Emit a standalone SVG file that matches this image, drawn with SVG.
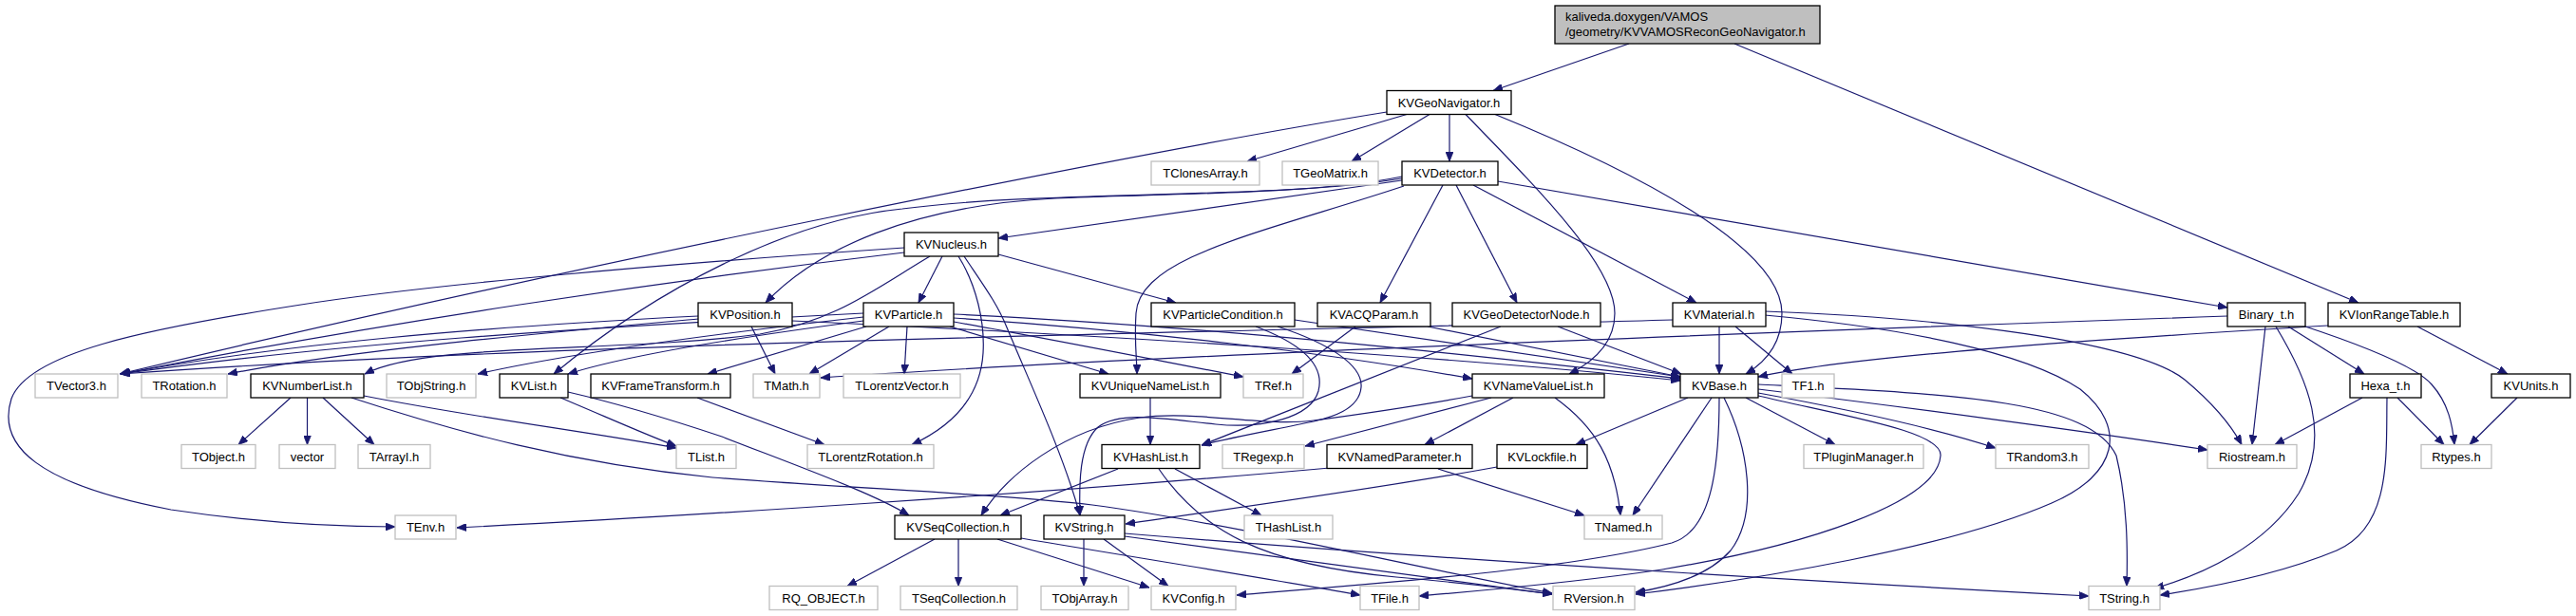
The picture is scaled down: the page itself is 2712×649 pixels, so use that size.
<svg xmlns="http://www.w3.org/2000/svg" width="2712" height="649" viewBox="0 0 2712 649">
<defs>
<style>
.n rect{fill:#fff;stroke:#000;stroke-width:1.3}
.x rect{fill:#fff;stroke:#bfbfbf;stroke-width:1.3}
.r rect{fill:#bfbfbf;stroke:#000;stroke-width:1.3}
text{font-family:"Liberation Sans",Arial,sans-serif;font-size:13px;fill:#000;text-anchor:middle}
.r text{text-anchor:start}
#edges path{fill:none;stroke:#191970;stroke-width:1.2;marker-end:url(#ah)}
</style>
<marker id="ah" viewBox="0 0 10 8" refX="10" refY="4" markerWidth="10" markerHeight="8" markerUnits="userSpaceOnUse" orient="auto"><path d="M0,0L10,4L0,8z" fill="#191970" stroke="#191970" stroke-width="0.8"/></marker>
</defs>
<rect width="2712" height="649" fill="#fff"/>
<g id="edges">
<path d="M1715,46 L1572,95.5"/>
<path d="M1826,46 L2483,319"/>
<path d="M1481,120.5 L1313,170"/>
<path d="M1505,120.5 L1423,170"/>
<path d="M1526,120.5 L1526,170"/>
<path d="M1460,118 C1200,160 600,280 126,394"/>
<path d="M1543,120.5 C1620,200 1700,280 1700,330 C1700,360 1680,380 1652,394"/>
<path d="M1574,120.5 C1720,180 1876,260 1876,330 C1876,362 1858,382 1838,394"/>
<path d="M1577,191 L2345,324"/>
<path d="M1551,195 L1786,319"/>
<path d="M1533,195 L1597,319"/>
<path d="M1519,195 L1453,319"/>
<path d="M1476,190 L1051,251"/>
<path d="M1476,186 C1380,206 1200,204 1110,209 C960,217 860,262 806,319"/>
<path d="M1476,188 C1350,210 1100,200 950,220 C830,232 690,305 583,394"/>
<path d="M1478,196 C1330,245 1200,270 1196,330 C1194,360 1197,380 1197,394"/>
<path d="M992,270 L967,319"/>
<path d="M1051,268 L1238,319"/>
<path d="M1009,270 C1028,300 1037,340 1035,372 C1032,420 1000,450 960,468.5"/>
<path d="M1015,270 C1035,300 1050,320 1060,345 C1085,405 1120,480 1137,543"/>
<path d="M952,266 C700,296 400,340 127,394"/>
<path d="M952,261 C700,278 450,300 317,321 C150,347 30,372 12,420 C-4,470 40,510 180,537 C280,552 360,555 416,555"/>
<path d="M979,270 C920,305 880,338 800,352 C650,372 450,360 384,394"/>
<path d="M735,333 C500,345 300,362 127,394"/>
<path d="M735,336 C560,352 360,370 240,394"/>
<path d="M791,344 L816,394"/>
<path d="M834,338 C1200,355 1550,378 1769,401"/>
<path d="M909,330 C600,346 350,362 127,394"/>
<path d="M909,334 C750,352 600,372 503,394"/>
<path d="M909,338 C780,355 660,374 598,394"/>
<path d="M912,344 L745,394"/>
<path d="M936,344 L852,394"/>
<path d="M955,344 L952,394"/>
<path d="M1000,344 L1167,394"/>
<path d="M1004,339 C1110,358 1210,378 1309,397"/>
<path d="M1004,335 C1200,348 1400,372 1550,399"/>
<path d="M1004,331 C1300,345 1600,380 1769,399"/>
<path d="M1363,337 L1769,397"/>
<path d="M1322,344 C1370,362 1395,385 1388,412 C1380,440 1330,452 1280,447 C1230,442 1180,432 1156,450 C1136,468 1136,510 1137,543"/>
<path d="M1345,344 C1400,362 1435,385 1433,408 C1431,432 1400,440 1383,444 C1340,453 1290,462 1265,469"/>
<path d="M1580,344 L1265,469"/>
<path d="M1550,417 C1480,430 1420,438 1383,443 C1330,450 1260,432 1200,440 C1120,452 1060,500 1033,543"/>
<path d="M1427,344 L1360,394"/>
<path d="M1503,344 L1769,397"/>
<path d="M1640,344 L1770,394"/>
<path d="M1761,337 C1300,350 600,360 127,394"/>
<path d="M1810,344 L1810,394"/>
<path d="M1827,344 L1887,394"/>
<path d="M1858,328 C2050,335 2250,360 2300,400 C2330,425 2350,450 2360,468.5"/>
<path d="M1858,332 C2000,345 2130,370 2190,410 C2240,450 2230,500 2160,530 C2050,578 1850,610 1722,626"/>
<path d="M2345,333 C1800,352 1200,375 864,398"/>
<path d="M2385,344 L2371,468.5"/>
<path d="M2396,344 C2430,400 2455,460 2420,520 C2385,575 2320,605 2268,620"/>
<path d="M2409,344 L2489,394"/>
<path d="M2424,343 C2500,368 2545,388 2560,405 C2578,425 2582,448 2584,468.5"/>
<path d="M2451,343 C2200,358 1950,375 1851,397"/>
<path d="M2545,344 L2640,394"/>
<path d="M2487,419 L2395,468.5"/>
<path d="M2524,419 L2573,468.5"/>
<path d="M2513,419 C2512,480 2518,555 2460,580 C2400,605 2320,620 2274,627"/>
<path d="M2650,419 L2600,468.5"/>
<path d="M306,419 L251,468.5"/>
<path d="M323.5,419 L323.5,468.5"/>
<path d="M340,419 L394,468.5"/>
<path d="M383,417 C500,440 620,455 712,472"/>
<path d="M370,419 C480,455 600,488 750,503 C900,515 1050,520 1150,532 C1300,552 1500,600 1634,625"/>
<path d="M590,419 C640,440 680,458 712,470"/>
<path d="M598,413 C650,425 700,440 760,460 C850,495 920,520 957,543"/>
<path d="M734,419 L868,468.5"/>
<path d="M1211,419 L1211,468.5"/>
<path d="M1177,494 L1053,543"/>
<path d="M1237,494 L1328,543"/>
<path d="M1220,494 C1265,560 1330,595 1470,608 C1540,614 1590,620 1634,626"/>
<path d="M1593,419 L1500,468.5"/>
<path d="M1637,419 C1680,450 1700,485 1706,543"/>
<path d="M1570,419 L1374,470"/>
<path d="M1514,494 L1668,543"/>
<path d="M1400,493 C1100,520 700,545 481,556"/>
<path d="M1576,492 C1450,515 1300,535 1185,552"/>
<path d="M1777,419 L1659,468.5"/>
<path d="M1802,419 L1719,543"/>
<path d="M1810,419 C1810,500 1800,560 1760,572 C1650,600 1450,615 1302,627"/>
<path d="M1815,419 C1840,470 1852,540 1822,580 C1800,605 1760,618 1722,624"/>
<path d="M1838,419 L1932,468.5"/>
<path d="M1851,414 C1950,432 2040,452 2101,472"/>
<path d="M1851,410 C2000,428 2200,455 2324,474"/>
<path d="M1851,405 C2050,415 2200,420 2228,480 C2240,530 2240,580 2239,617.5"/>
<path d="M1851,417 C1950,440 2045,455 2043,480 C2040,530 1900,575 1750,600 C1650,615 1560,622 1494,628"/>
<path d="M984,568 L892,617.5"/>
<path d="M1009,568 L1009,617.5"/>
<path d="M1050,568 L1210,619"/>
<path d="M1075,567 C1200,588 1350,612 1432,627"/>
<path d="M1141,568 L1141,617.5"/>
<path d="M1162,568 L1230,617.5"/>
<path d="M1184,562 C1500,588 1900,612 2199,628"/>
<path d="M1184,565 C1350,588 1500,608 1634,626"/>
</g>
<g id="root" class="r"><rect x="1637" y="6" width="279" height="40"/><text x="1648" y="22">kaliveda.doxygen/VAMOS</text><text x="1648" y="38">/geometry/KVVAMOSReconGeoNavigator.h</text></g>
<g id="KVGeoNavigator" class="n"><rect x="1460" y="95.5" width="131" height="25"/><text x="1525.5" y="112.5">KVGeoNavigator.h</text></g>
<g id="TClonesArray" class="x"><rect x="1212" y="170" width="114" height="25"/><text x="1269" y="187">TClonesArray.h</text></g>
<g id="TGeoMatrix" class="x"><rect x="1350" y="170" width="101" height="25"/><text x="1400.5" y="187">TGeoMatrix.h</text></g>
<g id="KVDetector" class="n"><rect x="1476" y="170" width="101" height="25"/><text x="1526.5" y="187">KVDetector.h</text></g>
<g id="KVNucleus" class="n"><rect x="952" y="245" width="99" height="25"/><text x="1001.5" y="262">KVNucleus.h</text></g>
<g id="KVPosition" class="n"><rect x="735" y="319" width="99" height="25"/><text x="784.5" y="336">KVPosition.h</text></g>
<g id="KVParticle" class="n"><rect x="909" y="319" width="95" height="25"/><text x="956.5" y="336">KVParticle.h</text></g>
<g id="KVParticleCondition" class="n"><rect x="1212" y="319" width="151" height="25"/><text x="1287.5" y="336">KVParticleCondition.h</text></g>
<g id="KVACQParam" class="n"><rect x="1387" y="319" width="119" height="25"/><text x="1446.5" y="336">KVACQParam.h</text></g>
<g id="KVGeoDetectorNode" class="n"><rect x="1529" y="319" width="156" height="25"/><text x="1607" y="336">KVGeoDetectorNode.h</text></g>
<g id="KVMaterial" class="n"><rect x="1761" y="319" width="98" height="25"/><text x="1810" y="336">KVMaterial.h</text></g>
<g id="Binary_t" class="n"><rect x="2345" y="319" width="82" height="25"/><text x="2386" y="336">Binary_t.h</text></g>
<g id="KVIonRangeTable" class="n"><rect x="2451" y="319" width="139" height="25"/><text x="2520.5" y="336">KVIonRangeTable.h</text></g>
<g id="TVector3" class="x"><rect x="37" y="394" width="87" height="25"/><text x="80.5" y="411">TVector3.h</text></g>
<g id="TRotation" class="x"><rect x="149" y="394" width="90" height="25"/><text x="194" y="411">TRotation.h</text></g>
<g id="KVNumberList" class="n"><rect x="264" y="394" width="119" height="25"/><text x="323.5" y="411">KVNumberList.h</text></g>
<g id="TObjString" class="x"><rect x="407" y="394" width="94" height="25"/><text x="454" y="411">TObjString.h</text></g>
<g id="KVList" class="n"><rect x="526" y="394" width="72" height="25"/><text x="562" y="411">KVList.h</text></g>
<g id="KVFrameTransform" class="n"><rect x="622" y="394" width="147" height="25"/><text x="695.5" y="411">KVFrameTransform.h</text></g>
<g id="TMath" class="x"><rect x="793" y="394" width="70" height="25"/><text x="828" y="411">TMath.h</text></g>
<g id="TLorentzVector" class="x"><rect x="888" y="394" width="123" height="25"/><text x="949.5" y="411">TLorentzVector.h</text></g>
<g id="KVUniqueNameList" class="n"><rect x="1137" y="394" width="148" height="25"/><text x="1211" y="411">KVUniqueNameList.h</text></g>
<g id="TRef" class="x"><rect x="1309" y="394" width="63" height="25"/><text x="1340.5" y="411">TRef.h</text></g>
<g id="KVNameValueList" class="n"><rect x="1550" y="394" width="139" height="25"/><text x="1619.5" y="411">KVNameValueList.h</text></g>
<g id="KVBase" class="n"><rect x="1769" y="394" width="82" height="25"/><text x="1810" y="411">KVBase.h</text></g>
<g id="TF1" class="x"><rect x="1876" y="394" width="55" height="25"/><text x="1903.5" y="411">TF1.h</text></g>
<g id="Hexa_t" class="n"><rect x="2474" y="394" width="75" height="25"/><text x="2511.5" y="411">Hexa_t.h</text></g>
<g id="KVUnits" class="n"><rect x="2623" y="394" width="83" height="25"/><text x="2664.5" y="411">KVUnits.h</text></g>
<g id="TObject" class="x"><rect x="191" y="468.5" width="78" height="25"/><text x="230" y="485.5">TObject.h</text></g>
<g id="vector" class="x"><rect x="294" y="468.5" width="59" height="25"/><text x="323.5" y="485.5">vector</text></g>
<g id="TArrayI" class="x"><rect x="377" y="468.5" width="76" height="25"/><text x="415" y="485.5">TArrayI.h</text></g>
<g id="TList" class="x"><rect x="712" y="468.5" width="63" height="25"/><text x="743.5" y="485.5">TList.h</text></g>
<g id="TLorentzRotation" class="x"><rect x="850" y="468.5" width="133" height="25"/><text x="916.5" y="485.5">TLorentzRotation.h</text></g>
<g id="KVHashList" class="n"><rect x="1160" y="468.5" width="103" height="25"/><text x="1211.5" y="485.5">KVHashList.h</text></g>
<g id="TRegexp" class="x"><rect x="1287" y="468.5" width="86" height="25"/><text x="1330" y="485.5">TRegexp.h</text></g>
<g id="KVNamedParameter" class="n"><rect x="1397" y="468.5" width="153" height="25"/><text x="1473.5" y="485.5">KVNamedParameter.h</text></g>
<g id="KVLockfile" class="n"><rect x="1576" y="468.5" width="95" height="25"/><text x="1623.5" y="485.5">KVLockfile.h</text></g>
<g id="TPluginManager" class="x"><rect x="1899" y="468.5" width="126" height="25"/><text x="1962" y="485.5">TPluginManager.h</text></g>
<g id="TRandom3" class="x"><rect x="2101" y="468.5" width="98" height="25"/><text x="2150" y="485.5">TRandom3.h</text></g>
<g id="Riostream" class="x"><rect x="2324" y="468.5" width="94" height="25"/><text x="2371" y="485.5">Riostream.h</text></g>
<g id="Rtypes" class="x"><rect x="2549" y="468.5" width="74" height="25"/><text x="2586" y="485.5">Rtypes.h</text></g>
<g id="TEnv" class="x"><rect x="416" y="543" width="64" height="25"/><text x="448" y="560">TEnv.h</text></g>
<g id="KVSeqCollection" class="n"><rect x="942" y="543" width="133" height="25"/><text x="1008.5" y="560">KVSeqCollection.h</text></g>
<g id="KVString" class="n"><rect x="1099" y="543" width="85" height="25"/><text x="1141.5" y="560">KVString.h</text></g>
<g id="THashList" class="x"><rect x="1310" y="543" width="93" height="25"/><text x="1356.5" y="560">THashList.h</text></g>
<g id="TNamed" class="x"><rect x="1668" y="543" width="82" height="25"/><text x="1709" y="560">TNamed.h</text></g>
<g id="RQ_OBJECT" class="x"><rect x="810" y="617.5" width="114" height="25"/><text x="867" y="634.5">RQ_OBJECT.h</text></g>
<g id="TSeqCollection" class="x"><rect x="948" y="617.5" width="123" height="25"/><text x="1009.5" y="634.5">TSeqCollection.h</text></g>
<g id="TObjArray" class="x"><rect x="1096" y="617.5" width="92" height="25"/><text x="1142" y="634.5">TObjArray.h</text></g>
<g id="KVConfig" class="x"><rect x="1212" y="617.5" width="89" height="25"/><text x="1256.5" y="634.5">KVConfig.h</text></g>
<g id="TFile" class="x"><rect x="1432" y="617.5" width="62" height="25"/><text x="1463" y="634.5">TFile.h</text></g>
<g id="RVersion" class="x"><rect x="1635" y="617.5" width="86" height="25"/><text x="1678" y="634.5">RVersion.h</text></g>
<g id="TString" class="x"><rect x="2199" y="617.5" width="75" height="25"/><text x="2236.5" y="634.5">TString.h</text></g>
</svg>
